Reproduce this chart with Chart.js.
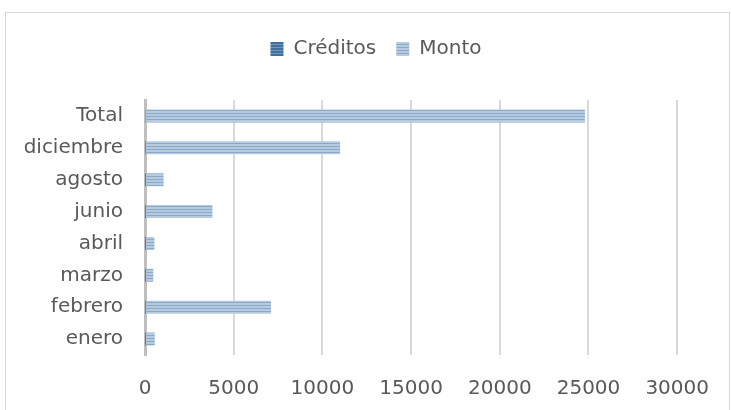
<!DOCTYPE html>
<html>
<head>
<meta charset="utf-8">
<script src="https://cdn.jsdelivr.net/npm/chart.js@4.4.1/dist/chart.umd.min.js"></script>
<style>
  html, body { margin: 0; padding: 0; background: #fff; overflow: hidden; }
  #frame { position: absolute; left: 5px; top: 12px; width: 723px; height: 420px; border: 1px solid #d9d9d9; border-bottom: none; }
  #wrap { position: absolute; left: 0; top: 0; width: 731px; height: 410px; }
</style>
</head>
<body>
<div id="frame"></div>
<div id="wrap"><canvas id="chart"></canvas></div>
<script>
// data (Excel order, drawn bottom to top)
const months = ['enero', 'febrero', 'marzo', 'abril', 'junio', 'agosto', 'diciembre', 'Total'];
const creditos = [2, 9, 1, 1, 5, 2, 13, 33];
const monto = [550, 7100, 470, 530, 3800, 1050, 11000, 24800];
const xTicks = [0, 5000, 10000, 15000, 20000, 25000, 30000];

const FONT = 'DejaVu Sans';
const TEXT = '#595959';

// horizontal striped fills like the Excel preset pattern
function stripes(light, dark) {
    const c = document.createElement('canvas');
    c.width = 4;
    c.height = 3;
    const g = c.getContext('2d');
    g.fillStyle = light;
    g.fillRect(0, 0, 4, 3);
    g.fillStyle = dark;
    g.fillRect(0, 2, 4, 1);
    return g.createPattern(c, 'repeat');
}

const creditosFill = stripes('#3e719d', '#6e99c0');
const montoFill = stripes('#b6cbe0', '#8aa9c9');

// push the plot area down below the legend, and center the legend on the frame
const legendGap = {
    id: 'legendGap',
    beforeInit(chart) {
        const fit = chart.legend.fit;
        chart.legend.fit = function () {
            fit.bind(chart.legend)();
            this.height += 31;
        };
    },
    afterLayout(chart) {
        chart.legend.left += 36;
        chart.legend.right += 36;
    }
};

new Chart(document.getElementById('chart'), {
    type: 'bar',
    data: {
        labels: months,
        datasets: [{
            label: 'Créditos',
            data: creditos,
            backgroundColor: creditosFill,
            borderWidth: 0,
            grouped: false,
            categoryPercentage: 1,
            barPercentage: 0.41
        }, {
            label: 'Monto',
            data: monto,
            backgroundColor: montoFill,
            borderWidth: 0,
            grouped: false,
            categoryPercentage: 1,
            barPercentage: 0.41
        }]
    },
    options: {
        indexAxis: 'y',
        responsive: true,
        maintainAspectRatio: false,
        animation: false,
        layout: { padding: { top: 19, right: 51, bottom: 8, left: 0 } },
        plugins: {
            tooltip: { enabled: false },
            legend: {
                position: 'top',
                labels: {
                    boxWidth: 13,
                    boxHeight: 14,
                    padding: 20,
                    color: TEXT,
                    font: { family: FONT, size: 20 }
                }
            }
        },
        scales: {
            x: {
                min: 0,
                max: 30000,
                afterBuildTicks: s => { s.ticks = xTicks.map(v => ({ value: v })); },
                afterFit: s => { s.height = 47; },
                grid: { color: '#d9d9d9', lineWidth: 2, drawTicks: false },
                border: { display: false },
                ticks: {
                    padding: 22,
                    color: TEXT,
                    font: { family: FONT, size: 20 },
                    callback: v => String(v)
                }
            },
            y: {
                reverse: true,
                afterFit: s => { s.width = 145; },
                grid: { display: false, drawTicks: false },
                border: { display: true, color: '#bfbfbf', width: 3 },
                ticks: {
                    padding: 22,
                    color: TEXT,
                    font: { family: FONT, size: 20 }
                }
            }
        }
    },
    plugins: [legendGap]
});
</script>
</body>
</html>
